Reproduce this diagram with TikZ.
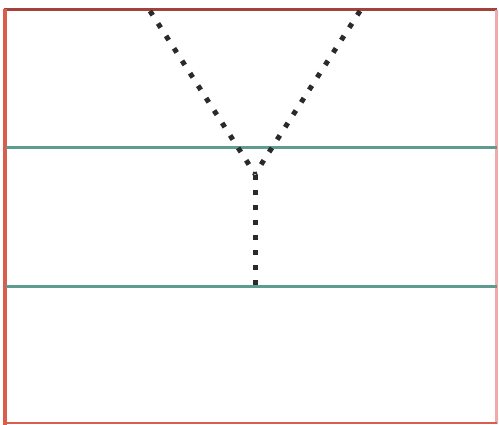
\documentclass[tikz,border=0pt]{standalone}
\usepackage{xcolor}
\usepackage{tikz}
\definecolor{framered}{HTML}{D95F4C}
\definecolor{framedark}{HTML}{A3423C}
\definecolor{framepink}{HTML}{F2A9A9}
\definecolor{layerteal}{HTML}{5E9C92}
\definecolor{dotgray}{HTML}{2A2A2E}
\tikzset{
  frm/.style={line width=3pt, draw=framered},
  layer/.style={line width=3pt, draw=layerteal},
  trail/.style={line width=5pt, draw=dotgray, dash pattern=on 5pt off 9.8pt},
}

\begin{document}
\begin{tikzpicture}[x=1pt, y=-1pt]
  \useasboundingbox (0,0) rectangle (499,425);
  % frame
  \draw[frm, draw=framedark] (4,10) -- (497,10);
  \draw[frm, draw=framepink] (496,10) -- (496,424);
  \draw[frm, line width=2pt] (4,423) -- (497,423);
  \draw[frm, line width=4.5pt] (5,9) -- (5,425);
  % layers
  \draw[layer] (6,148) -- (497,148);
  \draw[layer] (6,287) -- (497,287);
  % dotted paths
  \coordinate (tl) at (150,11);
  \coordinate (tr) at (360,11);
  \coordinate (join) at (255,174);
  \coordinate (base) at (255,287);
  \draw[trail] (tl) -- (join);
  \draw[trail] (tr) -- (join);
  \draw[trail, dash pattern=on 5pt off 10pt] ([yshift=-1pt]join) -- (base);
\end{tikzpicture}
\end{document}
